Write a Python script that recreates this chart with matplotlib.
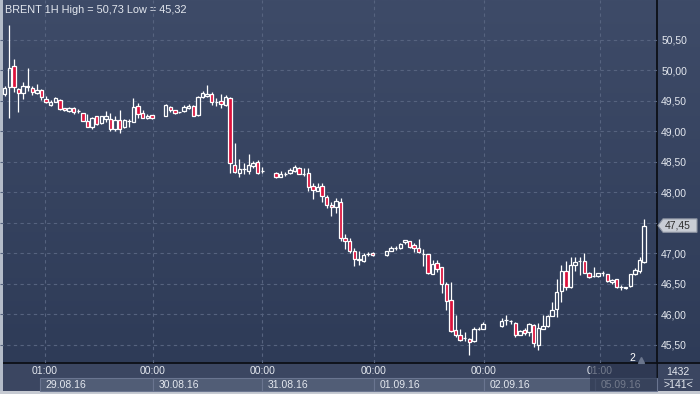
import numpy as np
import matplotlib.pyplot as plt
from matplotlib.patches import Rectangle, Polygon
from matplotlib.ticker import FuncFormatter
from matplotlib.transforms import blended_transform_factory

plt.rcParams['font.family'] = ['Liberation Sans', 'DejaVu Sans']

# hourly bars, gaps around midnight / weekend
bar_idx = (list(range(0, 33)) + list(range(35, 57)) + list(range(59, 81))
           + list(range(83, 105)) + list(range(108, 140)))

opens = [49.61, 49.72, 50.07, 49.69, 49.62, 49.72, 49.71, 49.62, 49.67, 49.52, 49.43, 49.48, 49.51, 49.37, 49.33, 49.38, 49.33,
         49.29, 49.17, 49.07, 49.24, 49.13, 49.20, 49.20, 49.03, 49.18, 49.07, 49.17, 49.15, 49.41, 49.29, 49.21, 49.26,
         49.25, 49.40, 49.34, 49.31, 49.33, 49.37, 49.41, 49.26, 49.56, 49.57, 49.61, 49.48, 49.50, 49.43, 49.54, 48.45,
         48.32, 48.37, 48.35, 48.42, 48.49, 48.35,
         48.31, 48.25, 48.30, 48.32, 48.35, 48.39, 48.30, 48.32, 48.10, 48.02, 48.10, 47.92, 47.79, 47.75, 47.83, 47.25,
         47.20, 47.04, 46.89, 46.87, 46.98, 47.00,
         46.96, 47.04, 47.08, 47.08, 47.18, 47.19, 47.13, 47.08, 46.98, 46.98, 46.66, 46.83, 46.77, 46.49, 46.23, 45.73,
         45.66, 45.60, 45.59, 45.55, 45.75, 45.76,
         45.80, 45.90, 45.89, 45.86, 45.66, 45.74, 45.70, 45.82, 45.50, 45.76, 45.81, 45.97, 46.08, 46.37, 46.71, 46.44,
         46.80, 46.87, 46.87, 46.67, 46.62, 46.63, 46.67, 46.65, 46.52, 46.57, 46.44, 46.42, 46.46, 46.65, 46.70, 46.86]

highs = [49.74, 50.74, 50.18, 49.70, 49.80, 50.03, 49.73, 49.77, 49.69, 49.57, 49.51, 49.55, 49.52, 49.38, 49.39, 49.39, 49.36,
         49.30, 49.28, 49.23, 49.25, 49.25, 49.33, 49.29, 49.25, 49.34, 49.20, 49.20, 49.54, 49.46, 49.34, 49.28, 49.27,
         49.44, 49.41, 49.35, 49.32, 49.43, 49.44, 49.42, 49.57, 49.66, 49.75, 49.64, 49.54, 49.61, 49.59, 49.56, 48.80,
         48.54, 48.47, 48.63, 48.51, 48.52, 48.41,
         48.33, 48.34, 48.33, 48.39, 48.44, 48.41, 48.39, 48.39, 48.15, 48.15, 48.15, 47.95, 47.83, 47.90, 47.90, 47.31,
         47.25, 47.08, 47.03, 47.00, 47.01, 47.01,
         47.04, 47.11, 47.11, 47.17, 47.21, 47.20, 47.16, 47.23, 47.06, 46.99, 46.89, 46.89, 46.77, 46.52, 46.52, 45.98,
         45.75, 45.70, 45.60, 45.78, 45.78, 45.87,
         45.93, 45.98, 45.91, 45.87, 45.73, 45.77, 45.85, 45.84, 45.85, 45.98, 45.98, 46.20, 46.57, 46.80, 46.87, 46.94,
         46.93, 46.93, 47.00, 46.69, 46.77, 46.68, 46.71, 46.66, 46.57, 46.58, 46.48, 46.45, 46.66, 46.75, 46.94, 47.56]

lows = [49.57, 49.21, 49.64, 49.32, 49.52, 49.66, 49.59, 49.61, 49.51, 49.46, 49.41, 49.47, 49.35, 49.33, 49.32, 49.28, 49.29,
        49.16, 49.06, 49.04, 49.10, 49.12, 49.15, 49.00, 49.00, 48.97, 49.05, 49.07, 49.14, 49.21, 49.21, 49.19, 49.20,
        49.24, 49.31, 49.28, 49.30, 49.32, 49.36, 49.24, 49.25, 49.54, 49.55, 49.43, 49.41, 49.37, 49.41, 48.31, 48.31,
        48.25, 48.29, 48.29, 48.39, 48.29, 48.31,
        48.23, 48.24, 48.26, 48.30, 48.33, 48.29, 48.26, 48.02, 47.89, 48.01, 47.84, 47.73, 47.61, 47.65, 47.20, 47.07,
        47.00, 46.78, 46.80, 46.86, 46.95, 46.95,
        46.95, 47.04, 47.05, 47.07, 47.15, 47.09, 47.02, 47.00, 46.78, 46.65, 46.65, 46.69, 46.35, 46.07, 45.71, 45.62,
        45.56, 45.56, 45.32, 45.54, 45.73, 45.76,
        45.78, 45.82, 45.83, 45.62, 45.65, 45.66, 45.64, 45.46, 45.41, 45.75, 45.79, 45.96, 45.95, 46.19, 46.39, 46.42,
        46.70, 46.64, 46.67, 46.59, 46.61, 46.61, 46.62, 46.53, 46.50, 46.43, 46.39, 46.41, 46.45, 46.64, 46.68, 46.84]

closes = [49.71, 50.03, 49.72, 49.62, 49.74, 49.74, 49.64, 49.67, 49.56, 49.48, 49.48, 49.54, 49.36, 49.34, 49.38, 49.32, 49.33,
          49.17, 49.07, 49.22, 49.11, 49.24, 49.24, 49.03, 49.18, 49.03, 49.18, 49.17, 49.39, 49.28, 49.22, 49.25, 49.21,
          49.43, 49.34, 49.29, 49.31, 49.39, 49.41, 49.25, 49.55, 49.62, 49.61, 49.48, 49.48, 49.44, 49.56, 48.47, 48.33,
          48.37, 48.37, 48.44, 48.47, 48.31, 48.35,
          48.25, 48.30, 48.30, 48.36, 48.41, 48.30, 48.30, 48.08, 48.03, 48.08, 47.93, 47.79, 47.75, 47.85, 47.24, 47.20,
          47.04, 46.90, 46.91, 46.97, 46.98, 46.96,
          47.03, 47.08, 47.08, 47.15, 47.21, 47.10, 47.08, 47.01, 46.98, 46.67, 46.82, 46.74, 46.49, 46.21, 45.72, 45.65,
          45.57, 45.60, 45.54, 45.75, 45.75, 45.83,
          45.88, 45.90, 45.89, 45.65, 45.72, 45.69, 45.83, 45.52, 45.77, 45.80, 45.96, 46.07, 46.36, 46.71, 46.44, 46.80,
          46.86, 46.87, 46.67, 46.60, 46.62, 46.67, 46.67, 46.54, 46.56, 46.44, 46.44, 46.44, 46.65, 46.72, 46.89, 47.45]

time_ticks = [8.75, 32.2, 56.0, 80.2, 104.2, 129.4]
time_labels = ["01:00", "00:00", "00:00", "00:00", "00:00", "01:00"]
date_labels = ["29.08.16", "30.08.16", "31.08.16", "01.09.16", "02.09.16", "05.09.16"]
price_ticks = [45.5, 46.0, 46.5, 47.0, 47.5, 48.0, 48.5, 49.0, 49.5, 50.0, 50.5]
last_price = 47.45
title = "BRENT 1H High = 50,73 Low = 45,32"

TXT = '#e4e8ef'
RED = '#dc123c'
GRID = '#56637f'


def fmt_price(v, pos=None):
    # the last-price tag hides the tick label right next to it
    if abs(v - last_price) < 0.15:
        return ""
    return f"{v:.2f}".replace('.', ',')


fig = plt.figure(figsize=(7, 3.94), dpi=100)

# background axes in pixel coordinates
bg = fig.add_axes([0, 0, 1, 1])
bg.set_xlim(0, 700)
bg.set_ylim(394, 0)
bg.set_axis_off()
g = np.linspace(0, 1, 300)[:, None, None]
top = np.array([62, 75, 104]) / 255
bot = np.array([45, 58, 86]) / 255
img = top + (bot - top) * g
bg.imshow(img, aspect='auto', extent=[0, 700, 394, 0], zorder=0)

# bottom panel
bg.add_patch(Rectangle((0, 363), 700, 31, facecolor='#3b4661', edgecolor='none', zorder=1))

ax = fig.add_axes([0, 31 / 394, 657 / 700, 363 / 394])
ax.set_facecolor('none')
ax.set_xlim(-1.02, 141.8)
ax.set_ylim(45.197, 51.148)
for s in ax.spines.values():
    s.set_visible(False)

for p in price_ticks:
    ax.axhline(p, color=GRID, lw=0.8, dashes=(3, 3), zorder=1)
for t in time_ticks:
    ax.axvline(t, color=GRID, lw=0.8, dashes=(3, 3), zorder=1)

ax.set_xticks([])
ax.yaxis.tick_right()
ax.set_yticks(price_ticks)
ax.yaxis.set_major_formatter(FuncFormatter(fmt_price))
ax.tick_params(axis='y', length=0, pad=3, labelcolor=TXT, labelsize=7.5)

# candles
for x, o, h, l, c in zip(bar_idx, opens, highs, lows, closes):
    lo_b, hi_b = min(o, c), max(o, c)
    ax.vlines(x, hi_b, h, color='white', lw=0.9, zorder=3)
    ax.vlines(x, l, lo_b, color='white', lw=0.9, zorder=3)
    fc = RED if c < o else 'none'
    ax.add_patch(Rectangle((x - 0.36, lo_b), 0.72, max(hi_b - lo_b, 0.002),
                           facecolor=fc, edgecolor='white', lw=0.9, zorder=4))

# separators
bg.plot([657, 657], [0, 391], color='#0c0f16', lw=1.3, zorder=5)
bg.plot([0, 700], [363, 363], color='#0c0f16', lw=1.3, zorder=5)

# time axis labels and date boxes
tx = blended_transform_factory(ax.transData, bg.transData)
for i, (t, tl, dl) in enumerate(zip(time_ticks, time_labels, date_labels)):
    start = t - 1.1 if tl == "01:00" else t
    end = time_ticks[i + 1] - (1.1 if time_labels[i + 1] == "01:00" else 0) if i + 1 < len(time_ticks) else 141.8
    ax.add_patch(Rectangle((start, 377.5), end - start, 13, transform=tx, clip_on=False,
                           facecolor='#515d76', edgecolor='#6a7590', lw=0.8, zorder=2))
    ax.text(t, 371, tl, transform=tx, ha='center', va='center', color=TXT, fontsize=7.5, clip_on=False)
    ax.text(start + 1.2, 384.5, dl, transform=tx, ha='left', va='center', color=TXT, fontsize=7.5, clip_on=False)
# last day shaded
ax.add_patch(Rectangle((time_ticks[-1] - 2.2, 363.5), 141.8 - time_ticks[-1] + 2.2, 27.5, transform=tx,
                       clip_on=False, facecolor='#27314a', alpha=0.6, edgecolor='none', zorder=6))

# title
bg.text(5, 10, title, color=TXT, fontsize=7.8, ha='left', va='center', zorder=6)

# last price tag
ty = blended_transform_factory(bg.transData, ax.transData)
tag = Polygon([(658, last_price), (663, last_price + 0.11), (697, last_price + 0.11),
               (697, last_price - 0.11), (663, last_price - 0.11)], closed=True,
              transform=ty, facecolor='#c9cdd5', edgecolor='#8d94a2', lw=0.8, clip_on=False, zorder=7)
ax.add_patch(tag)
ax.text(665, last_price, f"{last_price:.2f}".replace('.', ','), transform=ty, color='#2e2e2e',
        fontsize=7.5, va='center', ha='left', clip_on=False, zorder=8)

# marker "2"
bg.text(632, 358, "2", color='white', fontsize=7.5, ha='center', va='center', zorder=6)
bg.plot([641], [360], marker='^', ms=4, color='#6b768d', zorder=6)

# corner info
bg.text(678, 372, "1432", color=TXT, fontsize=7.5, ha='center', va='center', zorder=6)
bg.plot([664, 692], [378.5, 378.5], color='#8a93a6', lw=0.8, zorder=6)
bg.text(678, 385, ">141<", color=TXT, fontsize=7.5, ha='center', va='center', zorder=6)

# outer frame
bg.add_patch(Rectangle((0, 0), 2.5, 394, facecolor='#b4bcc9', edgecolor='none', zorder=9))
bg.add_patch(Rectangle((0, 391), 700, 3, facecolor='#c6cad2', edgecolor='none', zorder=9))

fig.savefig('out.png', dpi=100)
